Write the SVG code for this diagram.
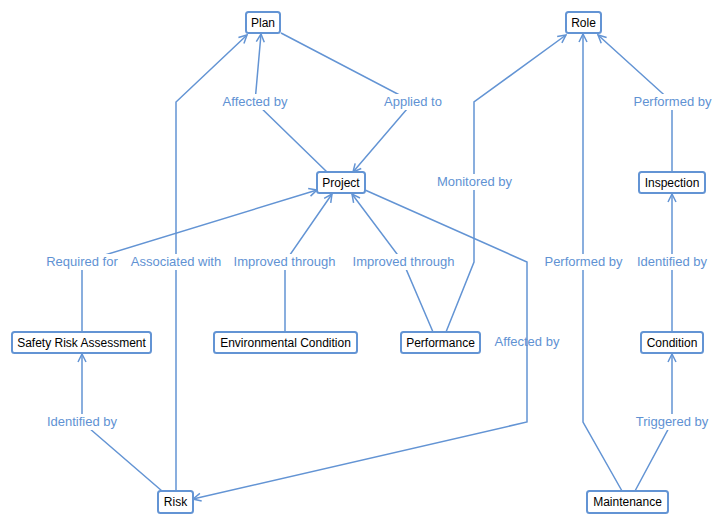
<svg xmlns="http://www.w3.org/2000/svg" width="718" height="526" viewBox="0 0 718 526">
<style>
.n rect{fill:#fff;stroke:#6394d4;stroke-width:2}
.n text{font-family:"Liberation Sans",Arial,sans-serif;font-size:12px;fill:#000;text-anchor:middle}
.e polyline{fill:none;stroke:#6394d4;stroke-width:1.5}
.l rect{fill:#fff}
.l text{font-family:"Liberation Sans",Arial,sans-serif;font-size:13px;fill:#5f92d3;text-anchor:middle}
</style>
<defs>
<marker id="a" markerUnits="userSpaceOnUse" viewBox="0 0 10 10" refX="9" refY="5" markerWidth="10" markerHeight="10" orient="auto">
<path d="M1,1 L9,5 L1,9" fill="none" stroke="#6394d4" stroke-width="1.5"/>
</marker>
</defs>
<g id="connectors" class="e">
<polyline points="327,172 255,102 261,34" marker-end="url(#a)"/>
<polyline points="281,33 413,102 353,172" marker-end="url(#a)"/>
<polyline points="176,491 176,102 247,35" marker-end="url(#a)"/>
<polyline points="82,332 82,262 317,190" marker-end="url(#a)"/>
<polyline points="285,332 285,262 332,194" marker-end="url(#a)"/>
<polyline points="433,332 403,262 352,194" marker-end="url(#a)"/>
<polyline points="446,332 474,262 474,102 566,35" marker-end="url(#a)"/>
<polyline points="365,190 527,262 527,422 193,499" marker-end="url(#a)"/>
<polyline points="622,491 583,422 583,34" marker-end="url(#a)"/>
<polyline points="672,172 672,102 598,35" marker-end="url(#a)"/>
<polyline points="672,332 672,194" marker-end="url(#a)"/>
<polyline points="635,491 672,422 672,354" marker-end="url(#a)"/>
<polyline points="162,491 82,422 82,354" marker-end="url(#a)"/>
</g>
<g id="labels" class="l">
<rect x="220" y="94" width="70" height="16"/><text x="255" y="105.5">Affected by</text>
<rect x="382" y="94" width="62" height="16"/><text x="413" y="105.5">Applied to</text>
<rect x="130" y="254" width="92" height="16"/><text x="176" y="265.5">Associated with</text>
<rect x="45" y="254" width="74" height="16"/><text x="82" y="265.5">Required for</text>
<rect x="233" y="254" width="103" height="16"/><text x="284.5" y="265.5">Improved through</text>
<rect x="352" y="254" width="103" height="16"/><text x="403.5" y="265.5">Improved through</text>
<rect x="436" y="174" width="77" height="16"/><text x="474.5" y="185.5">Monitored by</text>
<text x="527" y="345.5">Affected by</text>
<rect x="544" y="254" width="79" height="16"/><text x="583.5" y="265.5">Performed by</text>
<rect x="633" y="94" width="79" height="16"/><text x="672.5" y="105.5">Performed by</text>
<rect x="636" y="254" width="72" height="16"/><text x="672" y="265.5">Identified by</text>
<rect x="636" y="414" width="72" height="16"/><text x="672" y="425.5">Triggered by</text>
<rect x="46" y="414" width="72" height="16"/><text x="82" y="425.5">Identified by</text>
</g>
<g id="plan" class="n"><rect x="246" y="12" width="34" height="21" rx="2.5"/><text x="263" y="26.5">Plan</text></g>
<g id="role" class="n"><rect x="566" y="12" width="35" height="21" rx="2.5"/><text x="583.5" y="26.5">Role</text></g>
<g id="project" class="n"><rect x="317" y="172" width="48" height="21" rx="2.5"/><text x="341" y="186.5">Project</text></g>
<g id="inspection" class="n"><rect x="639" y="172" width="66" height="21" rx="2.5"/><text x="672" y="186.5">Inspection</text></g>
<g id="safety-risk-assessment" class="n"><rect x="12" y="332" width="139" height="21" rx="2.5"/><text x="81.5" y="346.5">Safety Risk Assessment</text></g>
<g id="environmental-condition" class="n"><rect x="214" y="332" width="143" height="21" rx="2.5"/><text x="285.5" y="346.5">Environmental Condition</text></g>
<g id="performance" class="n"><rect x="401" y="332" width="79" height="21" rx="2.5"/><text x="440.5" y="346.5">Performance</text></g>
<g id="condition" class="n"><rect x="641" y="332" width="62" height="21" rx="2.5"/><text x="672" y="346.5">Condition</text></g>
<g id="risk" class="n"><rect x="158" y="491" width="35" height="22" rx="2.5"/><text x="175.5" y="506">Risk</text></g>
<g id="maintenance" class="n"><rect x="587" y="491" width="81" height="22" rx="2.5"/><text x="627.5" y="506">Maintenance</text></g>
</svg>
